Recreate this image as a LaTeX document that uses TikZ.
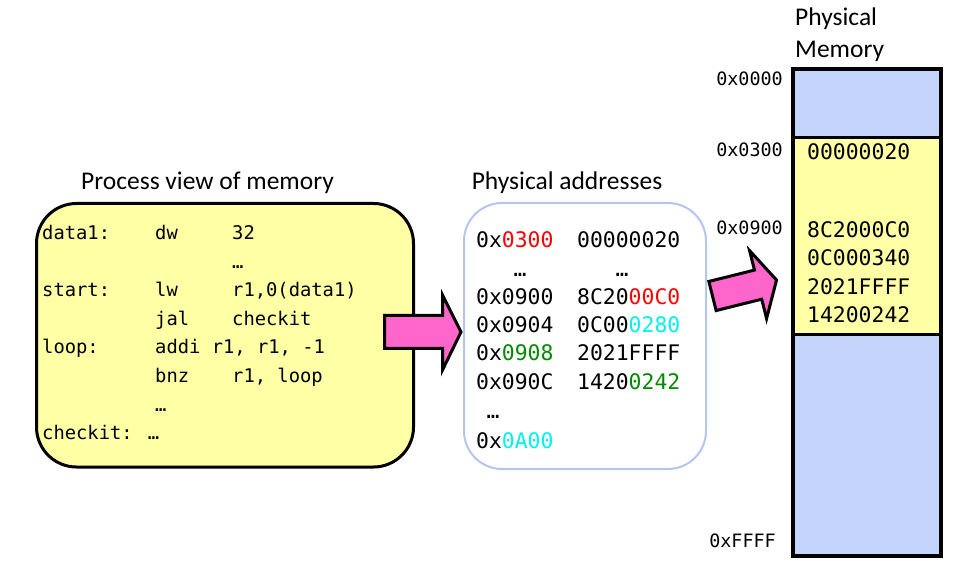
\documentclass[tikz,border=0pt]{standalone}
\usepackage{fontspec}
\setmainfont{Carlito}
\newfontfamily\monofont{DejaVu Sans Mono}
\definecolor{memyellow}{HTML}{FFFFA5}
\definecolor{memblue}{HTML}{C4D4FB}
\definecolor{boxblue}{HTML}{B4C6F0}
\definecolor{arrowpink}{HTML}{FF66CC}
\definecolor{addrred}{HTML}{FF0000}
\definecolor{addrcyan}{HTML}{00F0F0}
\definecolor{addrgreen}{HTML}{008A00}
\begin{document}
\begin{tikzpicture}[x=1pt,y=-1pt,
  title/.style={anchor=base, inner sep=0pt, font=\fontsize{25.5}{30}\selectfont},
  titlel/.style={anchor=base west, inner sep=0pt, font=\fontsize{25.5}{30}\selectfont},
  code/.style={anchor=base west, inner sep=0pt, font=\monofont\fontsize{18.8}{22}\selectfont},
  codec/.style={anchor=base, inner sep=0pt, font=\monofont\fontsize{18.8}{22}\selectfont},
  addr/.style={anchor=base west, inner sep=0pt, font=\monofont\fontsize{21.4}{25}\selectfont},
  addrc/.style={anchor=base, inner sep=0pt, font=\monofont\fontsize{21.4}{25}\selectfont},
  lbl/.style={anchor=base east, inner sep=0pt, font=\monofont\fontsize{18.4}{22}\selectfont},
  fatarrow/.style={draw=black, line width=3pt, fill=arrowpink, line join=miter},
  procbox/.style={draw=black, line width=3pt, fill=memyellow, rounded corners=40pt},
  physbox/.style={draw=boxblue, line width=2pt, fill=white, rounded corners=38pt}]
\useasboundingbox (0,0) rectangle (967,561);

% titles
\node[title] (tproc) at (207.5,190) {Process view of memory};
\node[title] (taddr) at (567,190) {Physical addresses};
\node[titlel] (tmem1) at (795,26) {Physical};
\node[titlel] (tmem2) at (795,58) {Memory};

% process box
\draw[procbox] (36.5,203.5) rectangle (413.5,467);
\node[code] (c1a) at (42,240) {data1:};
\node[code] (c1b) at (155,240) {dw};
\node[code] (c1c) at (232,240) {32};
\node[code] (c2c) at (232,268.5) {…};
\node[code] (c3a) at (42,297) {start:};
\node[code] (c3b) at (155,297) {lw};
\node[code] (c3c) at (232,297) {r1,0(data1)};
\node[code] (c4b) at (155,325.5) {jal};
\node[code] (c4c) at (232,325.5) {checkit};
\node[code] (c5a) at (42,354) {loop:};
\node[code] (c5b) at (155,354) {addi r1, r1, -1};
\node[code] (c6b) at (155,382.5) {bnz};
\node[code] (c6c) at (232,382.5) {r1, loop};
\node[code] (c7b) at (155,411) {…};
\node[code] (c8a) at (42,439.5) {checkit: …};

% physical addresses box
\draw[physbox] (464,203) rectangle (706,469);
\node[addr] (a1a) at (476,248) {0x\textcolor{addrred}{0300}};
\node[addr] (a1b) at (577,248) {00000020};
\node[addrc] (a2a) at (520,277) {…};
\node[addrc] (a2b) at (622,277) {…};
\node[addr] (a3a) at (476,305) {0x0900};
\node[addr] (a3b) at (577,305) {8C20\textcolor{addrred}{00C0}};
\node[addr] (a4a) at (476,333) {0x0904};
\node[addr] (a4b) at (577,333) {0C00\textcolor{addrcyan}{0280}};
\node[addr] (a5a) at (476,361) {0x\textcolor{addrgreen}{0908}};
\node[addr] (a5b) at (577,361) {2021FFFF};
\node[addr] (a6a) at (476,390) {0x090C};
\node[addr] (a6b) at (577,390) {1420\textcolor{addrgreen}{0242}};
\node[addrc] (a7a) at (493,418) {…};
\node[addr] (a8a) at (476,448) {0x\textcolor{addrcyan}{0A00}};

% arrow 1
\draw[fatarrow] (384.5,315.5) -- (442.5,315.5) -- (442.5,295) -- (461,332)
  -- (442.5,370) -- (442.5,348.5) -- (384.5,348.5) -- cycle;

% arrow 2
\begin{scope}[shift={(712.5,296)}, rotate=14]
\draw[fatarrow] (0,-15) -- (47,-15) -- (47,-35) -- (66,0) -- (47,35) -- (47,15) -- (0,15) -- cycle;
\end{scope}

% physical memory column
\fill[memblue] (793,69) rectangle (941,138);
\fill[memyellow] (793,138) rectangle (941,335);
\fill[memblue] (793,335) rectangle (941,556);
\draw[line width=3pt] (793,138) -- (941,138);
\draw[line width=3pt] (793,335) -- (941,335);
\draw[line width=4pt] (793,69) rectangle (941,556);

\node[addr] (m1) at (807,160) {00000020};
\node[addr] (m2) at (807,238) {8C2000C0};
\node[addr] (m3) at (807,266) {0C000340};
\node[addr] (m4) at (807,295) {2021FFFF};
\node[addr] (m5) at (807,323) {14200242};

\node[lbl] (l1) at (783,86) {0x0000};
\node[lbl] (l2) at (783,157) {0x0300};
\node[lbl] (l3) at (783,235) {0x0900};
\node[lbl] (l4) at (776,547) {0xFFFF};
\end{tikzpicture}
\end{document}
